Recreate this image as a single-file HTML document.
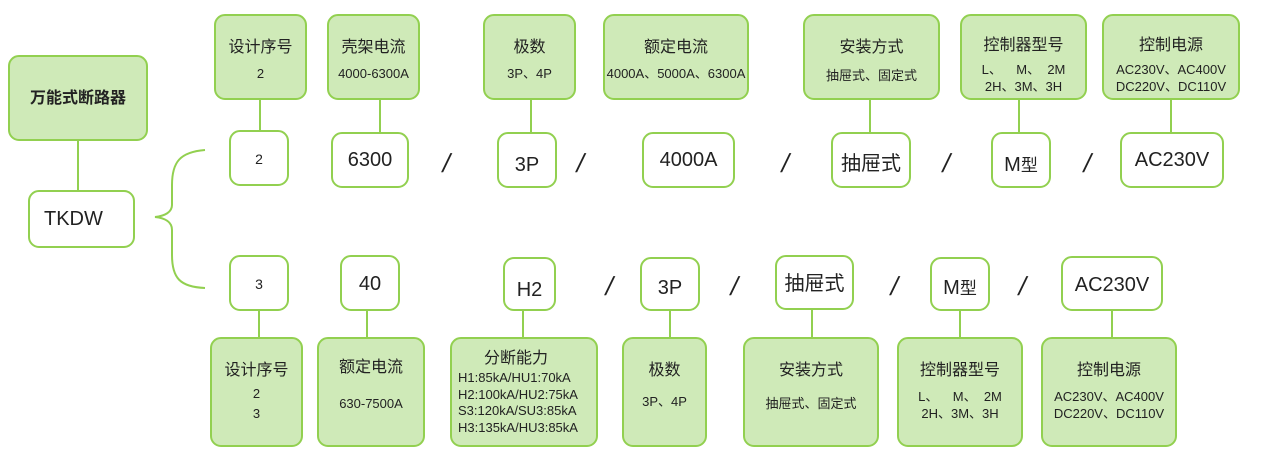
<!DOCTYPE html>
<html><head><meta charset="utf-8"><style>
body{margin:0;width:1266px;height:464px;background:#fff;position:relative;overflow:hidden;font-family:"Liberation Sans","Noto Sans CJK SC",sans-serif;color:#222}
.g,.w{position:absolute;box-sizing:border-box;border:2px solid #92d050;border-radius:11px}
.g{background:#cfeab8}
.w{background:#fff}
.t{position:absolute;left:0;width:100%;text-align:center;white-space:nowrap}
.h{font-size:16px;line-height:20px}
.s{font-size:13px;line-height:16px}
.b{font-size:20px;line-height:24px}
.l{position:absolute;width:2px;background:#92d050}
.sl{position:absolute;font-size:26px;line-height:26px;transform:skewX(-12deg);font-weight:300}
</style></head><body>
<svg width="1266" height="464" style="position:absolute;left:0;top:0">
<path d="M205,150 C180,152 172,162 172,185 L172,205 C172,212 165,216 155,217 C165,218 172,222 172,230 L172,255 C172,278 180,287 205,288" fill="none" stroke="#92d050" stroke-width="2"/>
</svg>
<div class="g" style="left:8px;top:55px;width:140px;height:86px"><div class="t h" style="top:32px;font-weight:bold">万能式断路器</div></div>
<div class="l" style="left:77px;top:140px;height:51px"></div>
<div class="w" style="left:28px;top:190px;width:107px;height:58px"><div class="t b" style="top:15px;text-align:left;left:14px">TKDW</div></div>

<div class="g" style="left:214px;top:14px;width:93px;height:86px"><div class="t h" style="top:22px">设计序号</div><div class="t s" style="top:50px">2</div></div>
<div class="g" style="left:327px;top:14px;width:93px;height:86px"><div class="t h" style="top:22px">壳架电流</div><div class="t s" style="top:50px">4000-6300A</div></div>
<div class="g" style="left:483px;top:14px;width:93px;height:86px"><div class="t h" style="top:22px">极数</div><div class="t s" style="top:50px">3P、4P</div></div>
<div class="g" style="left:603px;top:14px;width:146px;height:86px"><div class="t h" style="top:22px">额定电流</div><div class="t s" style="top:50px">4000A、5000A、6300A</div></div>
<div class="g" style="left:803px;top:14px;width:137px;height:86px"><div class="t h" style="top:22px">安装方式</div><div class="t s" style="top:52px">抽屉式、固定式</div></div>
<div class="g" style="left:960px;top:14px;width:127px;height:86px"><div class="t h" style="top:20px">控制器型号</div><div class="t s" style="top:46px">L、&nbsp;&nbsp;&nbsp;&nbsp;M、&nbsp;&nbsp;2M</div><div class="t s" style="top:63px">2H、3M、3H</div></div>
<div class="g" style="left:1102px;top:14px;width:138px;height:86px"><div class="t h" style="top:20px">控制电源</div><div class="t s" style="top:46px">AC230V、AC400V</div><div class="t s" style="top:63px">DC220V、DC110V</div></div>

<div class="l" style="left:259px;top:99px;height:32px"></div>
<div class="l" style="left:379px;top:99px;height:33px"></div>
<div class="l" style="left:530px;top:99px;height:33px"></div>
<div class="l" style="left:869px;top:99px;height:33px"></div>
<div class="l" style="left:1018px;top:99px;height:33px"></div>
<div class="l" style="left:1170px;top:99px;height:33px"></div>

<div class="w" style="left:229px;top:130px;width:60px;height:56px"><div class="t s" style="top:19px;font-size:14px">2</div></div>
<div class="w" style="left:331px;top:132px;width:78px;height:56px"><div class="t b" style="top:14px">6300</div></div>
<div class="w" style="left:497px;top:132px;width:60px;height:56px"><div class="t b" style="top:19px">3P</div></div>
<div class="w" style="left:642px;top:132px;width:93px;height:56px"><div class="t b" style="top:14px">4000A</div></div>
<div class="w" style="left:831px;top:132px;width:80px;height:56px"><div class="t b" style="top:18px">抽屉式</div></div>
<div class="w" style="left:991px;top:132px;width:60px;height:56px"><div class="t b" style="top:19px">M<span style="font-size:17px">型</span></div></div>
<div class="w" style="left:1120px;top:132px;width:104px;height:56px"><div class="t b" style="top:14px">AC230V</div></div>
<div class="sl" style="left:443px;top:150px">/</div>
<div class="sl" style="left:577px;top:150px">/</div>
<div class="sl" style="left:782px;top:150px">/</div>
<div class="sl" style="left:943px;top:150px">/</div>
<div class="sl" style="left:1084px;top:150px">/</div>

<div class="w" style="left:229px;top:255px;width:60px;height:56px"><div class="t s" style="top:19px;font-size:14px">3</div></div>
<div class="w" style="left:340px;top:255px;width:60px;height:56px"><div class="t b" style="top:15px">40</div></div>
<div class="w" style="left:503px;top:257px;width:53px;height:54px"><div class="t b" style="top:19px">H2</div></div>
<div class="w" style="left:640px;top:257px;width:60px;height:54px"><div class="t b" style="top:17px">3P</div></div>
<div class="w" style="left:775px;top:255px;width:79px;height:55px"><div class="t b" style="top:15px">抽屉式</div></div>
<div class="w" style="left:930px;top:257px;width:60px;height:54px"><div class="t b" style="top:17px">M<span style="font-size:17px">型</span></div></div>
<div class="w" style="left:1061px;top:256px;width:102px;height:55px"><div class="t b" style="top:15px">AC230V</div></div>
<div class="sl" style="left:606px;top:273px">/</div>
<div class="sl" style="left:731px;top:273px">/</div>
<div class="sl" style="left:891px;top:273px">/</div>
<div class="sl" style="left:1019px;top:273px">/</div>

<div class="l" style="left:258px;top:310px;height:28px"></div>
<div class="l" style="left:366px;top:310px;height:28px"></div>
<div class="l" style="left:522px;top:310px;height:28px"></div>
<div class="l" style="left:669px;top:310px;height:28px"></div>
<div class="l" style="left:811px;top:309px;height:29px"></div>
<div class="l" style="left:959px;top:310px;height:28px"></div>
<div class="l" style="left:1111px;top:310px;height:28px"></div>

<div class="g" style="left:210px;top:337px;width:93px;height:110px"><div class="t h" style="top:22px">设计序号</div><div class="t s" style="top:47px">2</div><div class="t s" style="top:67px">3</div></div>
<div class="g" style="left:317px;top:337px;width:108px;height:110px"><div class="t h" style="top:19px">额定电流</div><div class="t s" style="top:57px">630-7500A</div></div>
<div class="g" style="left:450px;top:337px;width:148px;height:110px"><div class="t h" style="top:10px;left:-8px">分断能力</div><div class="t s" style="top:31px;text-align:left;left:6px">H1:85kA/HU1:70kA</div><div class="t s" style="top:48px;text-align:left;left:6px">H2:100kA/HU2:75kA</div><div class="t s" style="top:64px;text-align:left;left:6px">S3:120kA/SU3:85kA</div><div class="t s" style="top:81px;text-align:left;left:6px">H3:135kA/HU3:85kA</div></div>
<div class="g" style="left:622px;top:337px;width:85px;height:110px"><div class="t h" style="top:22px">极数</div><div class="t s" style="top:55px">3P、4P</div></div>
<div class="g" style="left:743px;top:337px;width:136px;height:110px"><div class="t h" style="top:22px">安装方式</div><div class="t s" style="top:57px">抽屉式、固定式</div></div>
<div class="g" style="left:897px;top:337px;width:126px;height:110px"><div class="t h" style="top:22px">控制器型号</div><div class="t s" style="top:50px">L、&nbsp;&nbsp;&nbsp;&nbsp;M、&nbsp;&nbsp;2M</div><div class="t s" style="top:67px">2H、3M、3H</div></div>
<div class="g" style="left:1041px;top:337px;width:136px;height:110px"><div class="t h" style="top:22px">控制电源</div><div class="t s" style="top:50px">AC230V、AC400V</div><div class="t s" style="top:67px">DC220V、DC110V</div></div>
</body></html>
